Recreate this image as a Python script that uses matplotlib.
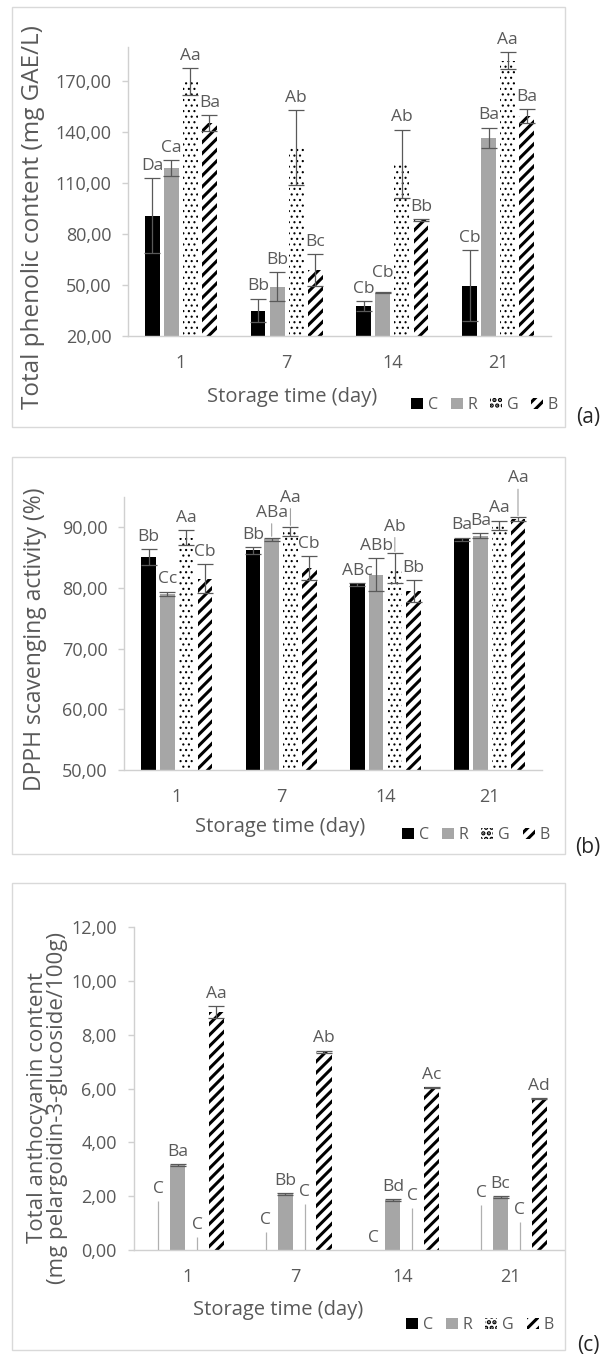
import matplotlib
matplotlib.use('Agg')
import matplotlib.pyplot as plt
import numpy as np
from matplotlib.patches import Rectangle
from matplotlib.ticker import FuncFormatter

plt.rcParams['font.family'] = ['Open Sans', 'DejaVu Sans']

days = ['1', '7', '14', '21']
groups = ['C', 'R', 'G', 'B']

# (a) total phenolic content (mg GAE/L)
tpc_C = [90.8, 35.0, 37.6, 49.7]
tpc_R = [118.8, 49.0, 45.4, 136.6]
tpc_G = [169.7, 131.0, 121.4, 182.0]
tpc_B = [145.4, 58.7, 88.1, 149.4]
tpc_C_err = [22.0, 7.0, 2.7, 20.7]
tpc_R_err = [4.5, 8.4, 0.3, 6.0]
tpc_G_err = [8.0, 22.0, 20.0, 5.0]
tpc_B_err = [4.7, 9.3, 0.5, 4.0]
tpc_C_lab = ['Da', 'Bb', 'Cb', 'Cb']
tpc_R_lab = ['Ca', 'Bb', 'Cb', 'Ba']
tpc_G_lab = ['Aa', 'Ab', 'Ab', 'Aa']
tpc_B_lab = ['Ba', 'Bc', 'Bb', 'Ba']

# (b) DPPH scavenging activity (%)
dpph_C = [85.1, 86.2, 80.6, 88.0]
dpph_R = [79.0, 88.0, 82.2, 88.6]
dpph_G = [88.3, 89.3, 83.3, 90.3]
dpph_B = [81.5, 83.3, 79.5, 91.4]
dpph_C_err = [1.3, 0.6, 0.2, 0.3]
dpph_R_err = [0.4, 0.3, 2.7, 0.4]
dpph_G_err = [1.2, 0.8, 2.5, 0.8]
dpph_B_err = [2.4, 1.9, 1.8, 0.3]
dpph_C_lab = ['Bb', 'Bb', 'ABc', 'Ba']
dpph_R_lab = ['Cc', 'ABa', 'ABb', 'Ba']
dpph_G_lab = ['Aa', 'Aa', 'Ab', 'Aa']
dpph_B_lab = ['Cb', 'Cb', 'Bb', 'Aa']

# (c) total anthocyanin content (mg pelargonidin-3-glucoside/100g)
anth_C = [0.0, 0.0, 0.0, 0.0]
anth_R = [3.16, 2.08, 1.86, 1.96]
anth_G = [0.0, 0.0, 0.0, 0.0]
anth_B = [8.85, 7.36, 6.04, 5.63]
anth_C_err = [1.83, 0.68, 0.0, 1.67]
anth_R_err = [0.03, 0.03, 0.03, 0.03]
anth_G_err = [0.47, 1.70, 1.55, 1.05]
anth_B_err = [0.22, 0.05, 0.02, 0.02]
anth_C_lab = ['C', 'C', 'C', 'C']
anth_R_lab = ['Ba', 'Bb', 'Bd', 'Bc']
anth_G_lab = ['C', 'C', 'C', 'C']
anth_B_lab = ['Aa', 'Ab', 'Ac', 'Ad']

W, H = 606, 1357
GRAY = '#595959'
fig = plt.figure(figsize=(W / 100, H / 100), dpi=100)

styles = [
    dict(facecolor='black', edgecolor='black', hatch=None, hlw=1.0),
    dict(facecolor='#a6a6a6', edgecolor='#a6a6a6', hatch=None, hlw=1.0),
    dict(facecolor='white', edgecolor='black', hatch='...', hlw=0.8),
    dict(facecolor='white', edgecolor='black', hatch='///', hlw=2.2),
]


def px_axes(l, r, t, b):
    return fig.add_axes([l / W, 1 - b / H, (r - l) / W, (b - t) / H])


def fmt(v, pos):
    return f'{v:.2f}'.replace('.', ',')


def panel(ax, means, errs, labels, ylim, ystep, ylabel, ylab_xy, ylab_size,
          xlab_xy, leg_xy, caps=(5.5, 5.5, 5.5, 5.5), ecols=None, nudges=None):
    nudges = nudges or {}
    ecols = ecols or [GRAY] * 4
    x = np.arange(len(days))
    handles = []
    for i, g in enumerate(groups):
        st = styles[i]
        plt.rcParams['hatch.linewidth'] = st['hlw']
        xs = x + (i - 1.5) * 0.18
        bars = ax.bar(xs, means[i], width=0.14, facecolor=st['facecolor'],
                      edgecolor=st['edgecolor'], linewidth=0, hatch=st['hatch'],
                      label=g, zorder=2)
        for b in bars:
            if hasattr(b, 'set_hatch_linewidth'):
                b.set_hatch_linewidth(st['hlw'])
        ax.errorbar(xs, means[i], yerr=errs[i], fmt='none', ecolor=ecols[i],
                    elinewidth=0.9, capsize=caps[i], capthick=0.9, zorder=3)
        for j in range(len(days)):
            top = means[i][j] + errs[i][j]
            dy, lead = nudges.get((j, i), (0, False))
            kw = {}
            if lead:
                kw['arrowprops'] = dict(arrowstyle='-', color='#a0a0a0', lw=0.8,
                                        shrinkA=0, shrinkB=1)
            ax.annotate(labels[i][j], (xs[j], top), xytext=(0, 3 + dy),
                        textcoords='offset points', ha='center', va='bottom',
                        fontsize=12.5, color=GRAY, zorder=4, **kw)
        handles.append(bars)
    ax.set_xlim(-0.5, len(days) - 0.5)
    ax.set_ylim(*ylim)
    ax.set_yticks(np.arange(ylim[0], ylim[1] + 1e-6, ystep))
    ax.yaxis.set_major_formatter(FuncFormatter(fmt))
    ax.set_xticks(x)
    ax.set_xticklabels(days)
    for s in ['top', 'right']:
        ax.spines[s].set_visible(False)
    for s in ['left', 'bottom']:
        ax.spines[s].set_color('#d0d0d0')
        ax.spines[s].set_linewidth(1.0)
    ax.tick_params(axis='y', colors='#d0d0d0', labelcolor=GRAY, length=4,
                   width=1.0, pad=8, labelsize=13)
    ax.tick_params(axis='x', length=0, pad=13, labelcolor=GRAY, labelsize=13)
    ax.text(ylab_xy[0], ylab_xy[1], ylabel, transform=ax.transAxes, rotation=90,
            ha='center', va='center', fontsize=ylab_size, color=GRAY,
            multialignment='center', linespacing=0.95)
    ax.text(xlab_xy[0], xlab_xy[1], 'Storage time (day)', transform=ax.transAxes,
            ha='center', va='center', fontsize=14.5, color=GRAY)
    leg = ax.legend(handles, groups, loc='center', bbox_to_anchor=leg_xy, ncol=4,
                    frameon=False, fontsize=11.5, handlelength=0.75,
                    handleheight=0.75, handletextpad=0.3, columnspacing=0.8,
                    borderpad=0)
    for t in leg.get_texts():
        t.set_color(GRAY)


def box(t, b, label, ly):
    fig.add_artist(Rectangle((12 / W, 1 - b / H), (565 - 12) / W, (b - t) / H,
                             transform=fig.transFigure, fill=False,
                             edgecolor='#d9d9d9', linewidth=1.0))
    fig.text(588 / W, 1 - ly / H, label, ha='center', va='center', fontsize=15,
             color='#262626')


# panel (a)
box(7, 427, '(a)', 417)
ax_a = px_axes(128, 551, 47, 336)
panel(ax_a, [tpc_C, tpc_R, tpc_G, tpc_B],
      [tpc_C_err, tpc_R_err, tpc_G_err, tpc_B_err],
      [tpc_C_lab, tpc_R_lab, tpc_G_lab, tpc_B_lab],
      (20, 190), 30, 'Total phenolic content (mg GAE/L)',
      (-0.225, 0.41), 17.5, (0.388, -0.211), (0.843, -0.239),
      nudges={(2, 1): (5, False)})

# panel (b)
box(457, 854, '(b)', 847)
ax_b = px_axes(124.5, 542, 497, 770)
panel(ax_b, [dpph_C, dpph_R, dpph_G, dpph_B],
      [dpph_C_err, dpph_R_err, dpph_G_err, dpph_B_err],
      [dpph_C_lab, dpph_R_lab, dpph_G_lab, dpph_B_lab],
      (50, 95), 10, 'DPPH scavenging activity (%)',
      (-0.215, 0.48), 16.5, (0.372, -0.209), (0.842, -0.238),
      nudges={(1, 1): (9, True), (1, 2): (12, True), (2, 2): (10, True),
              (3, 3): (19, True)})

# panel (c)
box(883, 1350, '(c)', 1345)
ax_c = px_axes(133.5, 564, 927, 1250)
panel(ax_c, [anth_C, anth_R, anth_G, anth_B],
      [anth_C_err, anth_R_err, anth_G_err, anth_B_err],
      [anth_C_lab, anth_R_lab, anth_G_lab, anth_B_lab],
      (0, 12), 2, 'Total anthocyanin content\n(mg pelargoidin-3-glucoside/100g)',
      (-0.2, 0.44), 16, (0.336, -0.186), (0.805, -0.232),
      caps=(0, 5.5, 0, 5.5), ecols=['#b0b0b0', GRAY, '#b0b0b0', GRAY])

fig.savefig('out.png', dpi=100, facecolor='white')
